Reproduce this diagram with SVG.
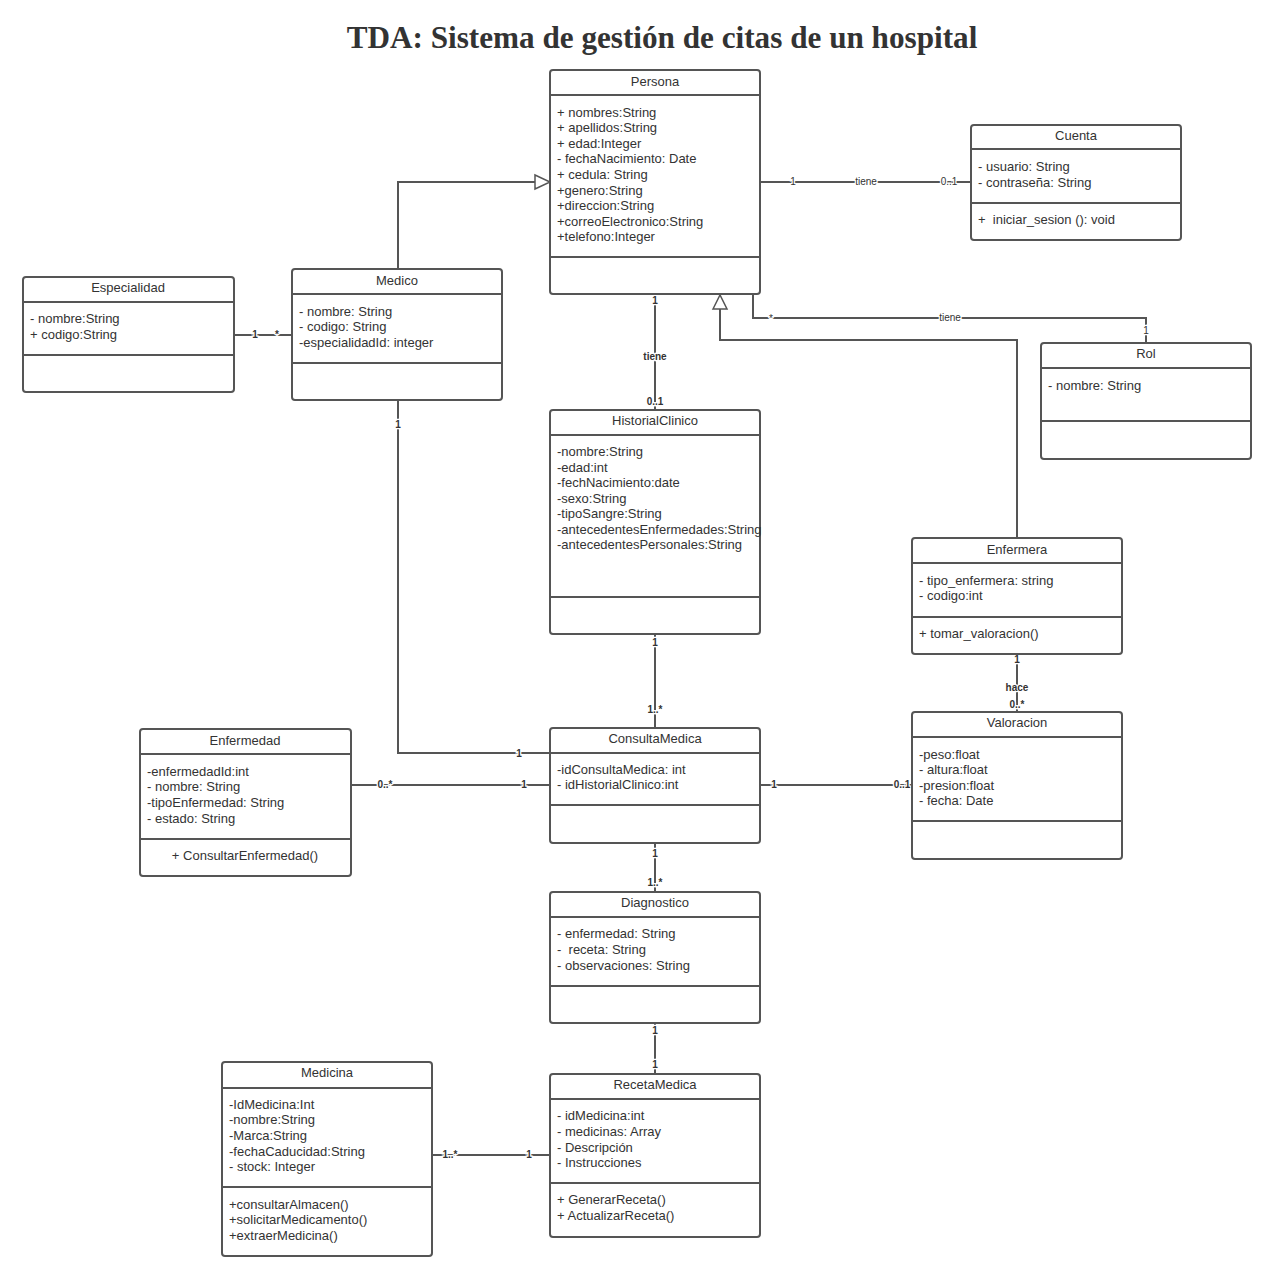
<svg xmlns="http://www.w3.org/2000/svg" width="1275" height="1280" viewBox="0 0 1275 1280">
<defs>
<style>
.box{fill:#fff;stroke:#555;stroke-width:2}
.sep{stroke:#555;stroke-width:2}
.ttl{font-family:"Liberation Sans",Arial,sans-serif;font-size:13px;fill:#333;text-anchor:middle}
.att{font-family:"Liberation Sans",Arial,sans-serif;font-size:13px;fill:#333}
.ln{fill:none;stroke:#555;stroke-width:2}
.lbl{font-family:"Liberation Sans",Arial,sans-serif;font-size:10px;fill:#333;text-anchor:middle;stroke:#fff;stroke-width:2.5;paint-order:stroke}
.bl{font-weight:bold}
.tri{fill:#fff;stroke:#555;stroke-width:1.5}
</style>
</defs>
<rect width="1275" height="1280" fill="#fff"/>
<text x="662" y="48" text-anchor="middle" font-family="Liberation Serif,Times New Roman,serif" font-size="31.2" font-weight="bold" fill="#333">TDA: Sistema de gestión de citas de un hospital</text>

<g id="connectors">
<polyline class="ln" points="398,269 398,182 535,182"/>
<polygon class="tri" points="535,175 550,182 535,189"/>
<polyline class="ln" points="1017,538 1017,340 720,340 720,309"/>
<polygon class="tri" points="713,309 720,295 727,309"/>
<line class="ln" x1="760" y1="182" x2="971" y2="182"/>
<text class="lbl" x="793" y="185">1</text>
<text class="lbl" x="866" y="185">tiene</text>
<text class="lbl" x="949" y="185">0..1</text>
<polyline class="ln" points="753,294 753,318 1146,318 1146,343"/>
<text class="lbl" x="771" y="322">*</text>
<text class="lbl" x="950" y="321">tiene</text>
<text class="lbl" x="1146" y="334">1</text>
<line class="ln" x1="655" y1="294" x2="655" y2="410"/>
<text class="lbl bl" x="655" y="304">1</text>
<text class="lbl bl" x="655" y="360">tiene</text>
<text class="lbl bl" x="655" y="405">0..1</text>
<line class="ln" x1="234" y1="335" x2="292" y2="335"/>
<text class="lbl bl" x="255" y="338">1</text>
<text class="lbl bl" x="277" y="338">*</text>
<polyline class="ln" points="398,400 398,753 550,753"/>
<text class="lbl bl" x="398" y="428">1</text>
<text class="lbl bl" x="519" y="757">1</text>
<line class="ln" x1="655" y1="634" x2="655" y2="728"/>
<text class="lbl bl" x="655" y="646">1</text>
<text class="lbl bl" x="655" y="713">1..*</text>
<line class="ln" x1="351" y1="785" x2="550" y2="785"/>
<text class="lbl bl" x="385" y="788">0..*</text>
<text class="lbl bl" x="524" y="788">1</text>
<line class="ln" x1="760" y1="785" x2="912" y2="785"/>
<text class="lbl bl" x="774" y="788">1</text>
<text class="lbl bl" x="902" y="788">0..1</text>
<line class="ln" x1="1017" y1="654" x2="1017" y2="712"/>
<text class="lbl bl" x="1017" y="663">1</text>
<text class="lbl bl" x="1017" y="691">hace</text>
<text class="lbl bl" x="1017" y="708">0..*</text>
<line class="ln" x1="655" y1="843" x2="655" y2="892"/>
<text class="lbl bl" x="655" y="857">1</text>
<text class="lbl bl" x="655" y="886">1..*</text>
<line class="ln" x1="655" y1="1023" x2="655" y2="1074"/>
<text class="lbl bl" x="655" y="1034">1</text>
<text class="lbl bl" x="655" y="1068">1</text>
<line class="ln" x1="432" y1="1155" x2="550" y2="1155"/>
<text class="lbl bl" x="450" y="1158">1..*</text>
<text class="lbl bl" x="529" y="1158">1</text>
</g>

<g id="Persona">
<rect class="box" x="550" y="70" width="210" height="224" rx="3"/>
<line class="sep" x1="550" y1="95" x2="760" y2="95"/>
<line class="sep" x1="550" y1="257" x2="760" y2="257"/>
<text class="ttl" x="655" y="86">Persona</text>
<text class="att" x="557" y="117">+ nombres:String</text>
<text class="att" x="557" y="132">+ apellidos:String</text>
<text class="att" x="557" y="148">+ edad:Integer</text>
<text class="att" x="557" y="163">- fechaNacimiento: Date</text>
<text class="att" x="557" y="179">+ cedula: String</text>
<text class="att" x="557" y="195">+genero:String</text>
<text class="att" x="557" y="210">+direccion:String</text>
<text class="att" x="557" y="226">+correoElectronico:String</text>
<text class="att" x="557" y="241">+telefono:Integer</text>
</g>

<g id="Cuenta">
<rect class="box" x="971" y="125" width="210" height="115" rx="3"/>
<line class="sep" x1="971" y1="149" x2="1181" y2="149"/>
<line class="sep" x1="971" y1="203" x2="1181" y2="203"/>
<text class="ttl" x="1076" y="140">Cuenta</text>
<text class="att" x="978" y="171">- usuario: String</text>
<text class="att" x="978" y="187">- contraseña: String</text>
<text class="att" x="978" y="224" xml:space="preserve">+  iniciar_sesion (): void</text>
</g>

<g id="Especialidad">
<rect class="box" x="23" y="277" width="211" height="115" rx="3"/>
<line class="sep" x1="23" y1="302" x2="234" y2="302"/>
<line class="sep" x1="23" y1="355" x2="234" y2="355"/>
<text class="ttl" x="128" y="292">Especialidad</text>
<text class="att" x="30" y="323">- nombre:String</text>
<text class="att" x="30" y="339">+ codigo:String</text>
</g>

<g id="Medico">
<rect class="box" x="292" y="269" width="210" height="131" rx="3"/>
<line class="sep" x1="292" y1="294" x2="502" y2="294"/>
<line class="sep" x1="292" y1="363" x2="502" y2="363"/>
<text class="ttl" x="397" y="285">Medico</text>
<text class="att" x="299" y="316">- nombre: String</text>
<text class="att" x="299" y="331">- codigo: String</text>
<text class="att" x="299" y="347">-especialidadId: integer</text>
</g>

<g id="Rol">
<rect class="box" x="1041" y="343" width="210" height="116" rx="3"/>
<line class="sep" x1="1041" y1="368" x2="1251" y2="368"/>
<line class="sep" x1="1041" y1="421" x2="1251" y2="421"/>
<text class="ttl" x="1146" y="358">Rol</text>
<text class="att" x="1048" y="390">- nombre: String</text>
</g>

<g id="HistorialClinico">
<rect class="box" x="550" y="410" width="210" height="224" rx="3"/>
<line class="sep" x1="550" y1="435" x2="760" y2="435"/>
<line class="sep" x1="550" y1="597" x2="760" y2="597"/>
<text class="ttl" x="655" y="425">HistorialClinico</text>
<text class="att" x="557" y="456">-nombre:String</text>
<text class="att" x="557" y="472">-edad:int</text>
<text class="att" x="557" y="487">-fechNacimiento:date</text>
<text class="att" x="557" y="503">-sexo:String</text>
<text class="att" x="557" y="518">-tipoSangre:String</text>
<text class="att" x="557" y="534">-antecedentesEnfermedades:String</text>
<text class="att" x="557" y="549">-antecedentesPersonales:String</text>
</g>

<g id="Enfermera">
<rect class="box" x="912" y="538" width="210" height="116" rx="3"/>
<line class="sep" x1="912" y1="563" x2="1122" y2="563"/>
<line class="sep" x1="912" y1="617" x2="1122" y2="617"/>
<text class="ttl" x="1017" y="554">Enfermera</text>
<text class="att" x="919" y="585">- tipo_enfermera: string</text>
<text class="att" x="919" y="600">- codigo:int</text>
<text class="att" x="919" y="638">+ tomar_valoracion()</text>
</g>

<g id="Valoracion">
<rect class="box" x="912" y="712" width="210" height="147" rx="3"/>
<line class="sep" x1="912" y1="737" x2="1122" y2="737"/>
<line class="sep" x1="912" y1="821" x2="1122" y2="821"/>
<text class="ttl" x="1017" y="727">Valoracion</text>
<text class="att" x="919" y="759">-peso:float</text>
<text class="att" x="919" y="774">- altura:float</text>
<text class="att" x="919" y="790">-presion:float</text>
<text class="att" x="919" y="805">- fecha: Date</text>
</g>

<g id="Enfermedad">
<rect class="box" x="140" y="729" width="211" height="147" rx="3"/>
<line class="sep" x1="140" y1="754" x2="351" y2="754"/>
<line class="sep" x1="140" y1="839" x2="351" y2="839"/>
<text class="ttl" x="245" y="745">Enfermedad</text>
<text class="att" x="147" y="776">-enfermedadId:int</text>
<text class="att" x="147" y="791">- nombre: String</text>
<text class="att" x="147" y="807">-tipoEnfermedad: String</text>
<text class="att" x="147" y="823">- estado: String</text>
<text class="ttl" x="245" y="860">+ ConsultarEnfermedad()</text>
</g>

<g id="ConsultaMedica">
<rect class="box" x="550" y="728" width="210" height="115" rx="3"/>
<line class="sep" x1="550" y1="753" x2="760" y2="753"/>
<line class="sep" x1="550" y1="805" x2="760" y2="805"/>
<text class="ttl" x="655" y="743">ConsultaMedica</text>
<text class="att" x="557" y="774">-idConsultaMedica: int</text>
<text class="att" x="557" y="789">- idHistorialClinico:int</text>
</g>

<g id="Diagnostico">
<rect class="box" x="550" y="892" width="210" height="131" rx="3"/>
<line class="sep" x1="550" y1="917" x2="760" y2="917"/>
<line class="sep" x1="550" y1="986" x2="760" y2="986"/>
<text class="ttl" x="655" y="907">Diagnostico</text>
<text class="att" x="557" y="938">- enfermedad: String</text>
<text class="att" x="557" y="954" xml:space="preserve">-  receta: String</text>
<text class="att" x="557" y="970">- observaciones: String</text>
</g>

<g id="Medicina">
<rect class="box" x="222" y="1062" width="210" height="194" rx="3"/>
<line class="sep" x1="222" y1="1088" x2="432" y2="1088"/>
<line class="sep" x1="222" y1="1187" x2="432" y2="1187"/>
<text class="ttl" x="327" y="1077">Medicina</text>
<text class="att" x="229" y="1109">-IdMedicina:Int</text>
<text class="att" x="229" y="1124">-nombre:String</text>
<text class="att" x="229" y="1140">-Marca:String</text>
<text class="att" x="229" y="1156">-fechaCaducidad:String</text>
<text class="att" x="229" y="1171">- stock: Integer</text>
<text class="att" x="229" y="1209">+consultarAlmacen()</text>
<text class="att" x="229" y="1224">+solicitarMedicamento()</text>
<text class="att" x="229" y="1240">+extraerMedicina()</text>
</g>

<g id="RecetaMedica">
<rect class="box" x="550" y="1074" width="210" height="163" rx="3"/>
<line class="sep" x1="550" y1="1099" x2="760" y2="1099"/>
<line class="sep" x1="550" y1="1183" x2="760" y2="1183"/>
<text class="ttl" x="655" y="1089">RecetaMedica</text>
<text class="att" x="557" y="1120">- idMedicina:int</text>
<text class="att" x="557" y="1136">- medicinas: Array</text>
<text class="att" x="557" y="1152">- Descripción</text>
<text class="att" x="557" y="1167">- Instrucciones</text>
<text class="att" x="557" y="1204">+ GenerarReceta()</text>
<text class="att" x="557" y="1220">+ ActualizarReceta()</text>
</g>
</svg>
